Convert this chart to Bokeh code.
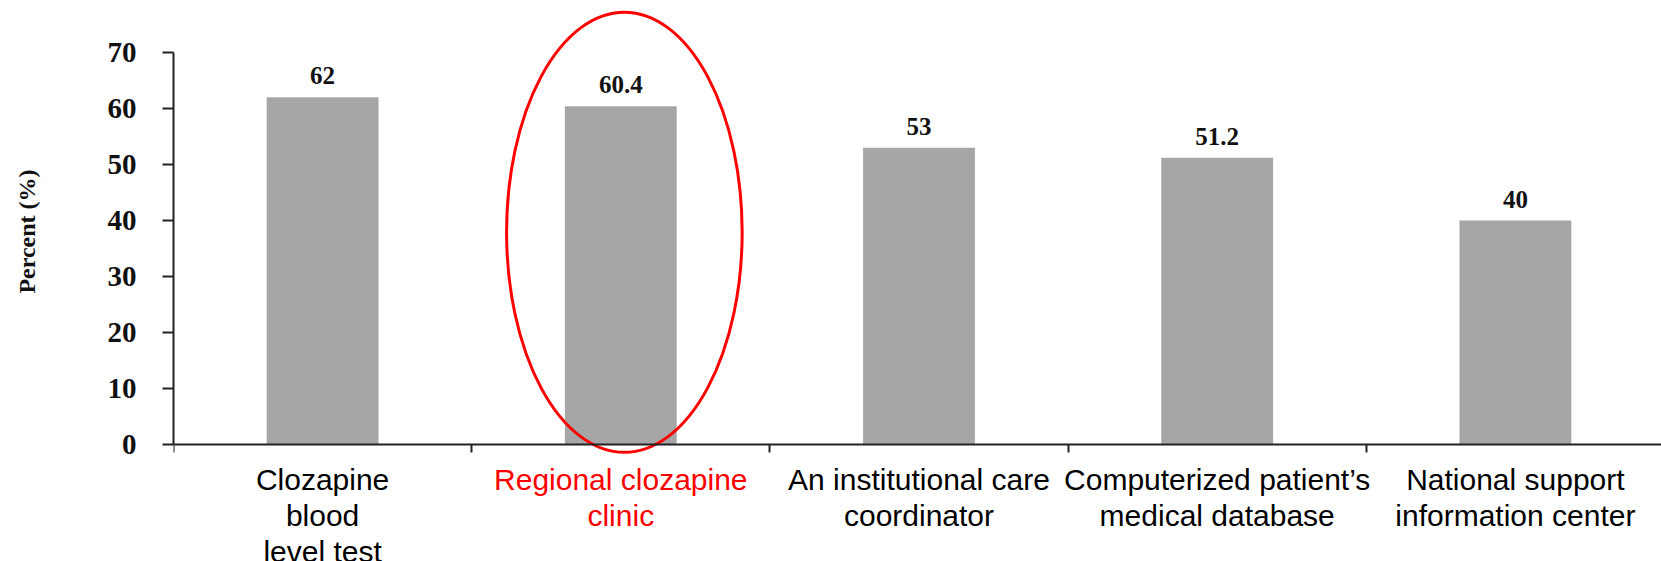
from bokeh.plotting import figure
from bokeh.layouts import column
from bokeh.models import Range1d, FixedTicker, LabelSet, ColumnDataSource
from bokeh.core.properties import value
from bokeh.embed import file_html
from bokeh.resources import INLINE

# ---- data ----
categories = [
    "Clozapine\nblood\nlevel test",
    "Regional clozapine\nclinic",
    "An institutional care\ncoordinator",
    "Computerized patient\u2019s\nmedical database",
    "National support\ninformation center",
]
percent = [62, 60.4, 53, 51.2, 40]
value_labels = ["62", "60.4", "53", "51.2", "40"]
y_ticks = [0, 10, 20, 30, 40, 50, 60, 70]
highlight = "Regional clozapine\nclinic"

# ---- derived ----
xs = [i + 0.5 for i in range(len(categories))]
boundaries = list(range(len(categories) + 1))
colors = ["#ff0000" if c == highlight else "#000000" for c in categories]
hi = categories.index(highlight)

src = ColumnDataSource(dict(x=xs, top=percent, vlab=value_labels,
                            cat=categories, col=colors,
                            base=[0] * len(categories)))

W = 1661
LEFT = 173
H1 = 462
xr = Range1d(0, 4.99)

p = figure(width=W, height=H1,
           x_range=xr, y_range=Range1d(-3.214, 79.29),
           x_axis_location="above",
           output_backend="svg", toolbar_location=None,
           min_border_left=LEFT, min_border_right=0,
           min_border_top=0, min_border_bottom=0)
p.outline_line_color = None
p.xgrid.visible = False
p.ygrid.visible = False

p.vbar(x="x", top="top", bottom=0, width=0.375, source=src,
       fill_color="#a6a6a6", line_color=None)

# y axis
ya = p.yaxis[0]
ya.bounds = (0, 70)
ya.ticker = FixedTicker(ticks=y_ticks)
ya.minor_tick_line_color = None
ya.major_tick_in = 0
ya.major_tick_out = 11
ya.axis_line_width = 2
ya.axis_line_color = "#222222"
ya.major_tick_line_width = 2
ya.major_tick_line_color = "#222222"
ya.major_label_text_font = "Liberation Serif"
ya.major_label_text_font_style = "bold"
ya.major_label_text_font_size = "29px"
ya.major_label_text_color = "#111111"
ya.major_label_standoff = 26
ya.axis_label = "Percent (%)"
ya.axis_label_text_font = "Liberation Serif"
ya.axis_label_text_font_style = "bold"
ya.axis_label_text_font_size = "24px"
ya.axis_label_text_color = "#111111"
ya.axis_label_standoff = 65

# x axis line at y=0, ticks pointing down at category boundaries
xa = p.xaxis[0]
xa.fixed_location = 0
xa.ticker = FixedTicker(ticks=boundaries)
xa.minor_tick_line_color = None
xa.major_tick_in = 8
xa.major_tick_out = 0
xa.axis_line_width = 2
xa.axis_line_color = "#222222"
xa.major_tick_line_width = 2
xa.major_tick_line_color = "#222222"
xa.major_label_text_color = None
xa.major_label_standoff = 0

# value labels
p.add_layout(LabelSet(x="x", y="top", text="vlab", source=src,
                      text_align="center", text_baseline="alphabetic",
                      y_offset=13, text_font="Liberation Serif",
                      text_font_style="bold", text_font_size="25px",
                      text_color="#111111"))

# highlight ellipse
p.ellipse(x=xs[hi] + 0.012, y=37.9, width=0.79, height=78.6,
          fill_color=None, line_color="#ff0000", line_width=3)

# category labels strip
p2 = figure(width=W, height=561 - H1, x_range=xr, y_range=Range1d(-1, 0),
            x_axis_location=None, y_axis_location=None,
            output_backend="svg", toolbar_location=None,
            min_border_left=LEFT, min_border_right=0,
            min_border_top=0, min_border_bottom=0)
p2.outline_line_color = None
p2.xgrid.visible = False
p2.ygrid.visible = False
p2.text(x="x", y="base", text="cat", text_color="col", source=src,
        text_align="center", text_baseline="top", y_offset=0,
        text_font=value("Liberation Sans"), text_font_size="30px",
        text_line_height=1.1)

layout = column(p, p2, spacing=0)
open("out.html", "w").write(file_html(layout, INLINE))
